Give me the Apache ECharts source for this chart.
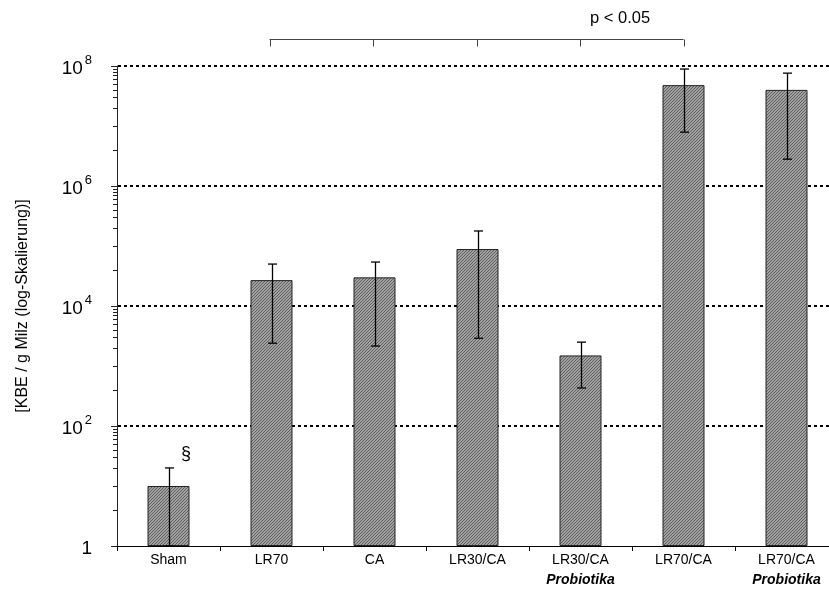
<!DOCTYPE html>
<html><head><meta charset="utf-8">
<script src="https://cdn.jsdelivr.net/npm/echarts@6/dist/echarts.min.js"></script>
<style>html,body{margin:0;padding:0;background:#fff}#c{width:829px;height:597px}</style>
</head><body><div id="c"></div>
<script>
// ---- data ----
const categories = ['Sham', 'LR70', 'CA', 'LR30/CA', 'LR30/CA\nProbiotika', 'LR70/CA', 'LR70/CA\nProbiotika'];
const means   = [10, 27000, 30000, 89000, 1500, 48000000, 40000000];
const errLow  = [1, 2400, 2150, 2900, 430, 7900000, 2800000];
const errHigh = [20, 50000, 54000, 178000, 2500, 89000000, 76000000];
const yMin = 1, yMax = 1e8;
const gridValues = [1e2, 1e4, 1e6, 1e8];
const minorMultipliers = [4, 10, 20, 30, 40, 50, 60, 70, 80, 90];
const bracketFrom = 1, bracketTo = 5;
const pText = 'p < 0.05';
const sigMark = '§';
const yName = '[KBE / g Milz (log-Skalierung)]';

const FONT = '"Liberation Sans", Arial, sans-serif';

// minor tick positions (axis decoration)
const minorTicks = [];
for (let b = 1; b < yMax; b *= 100) minorMultipliers.forEach(m => minorTicks.push(m * b));

// hatch pattern
const pc = document.createElement('canvas');
pc.width = 3; pc.height = 3;
const pctx = pc.getContext('2d');
pctx.fillStyle = '#a2a2a2'; pctx.fillRect(0, 0, 3, 3);
pctx.fillStyle = '#5e5e5e';
for (let i = 0; i < 3; i++) pctx.fillRect(2 - i, i, 1, 1);

const chart = echarts.init(document.getElementById('c'), null, {renderer: 'canvas'});
chart.setOption({
  animation: false,
  backgroundColor: '#fff',
  grid: {left: 117, top: 66, bottom: 51, width: 721, outerBoundsMode: 'none', containLabel: false},
  xAxis: {
    type: 'category',
    data: categories,
    z: 5,
    axisLine: {lineStyle: {color: '#000', width: 1}},
    axisTick: {show: true, length: 5, lineStyle: {color: '#000'}},
    axisLabel: {
      interval: 0, margin: 4, fontFamily: FONT, fontSize: 14, color: '#000', lineHeight: 20,
      formatter: v => { const p = v.split('\n'); return p.length > 1 ? p[0] + '\n{p|' + p[1] + '}' : v; },
      rich: {p: {fontFamily: FONT, fontSize: 14, fontWeight: 'bold', fontStyle: 'italic', color: '#000', lineHeight: 20}}
    },
    splitLine: {show: false}
  },
  yAxis: {
    type: 'log', logBase: 100, min: yMin, max: yMax,
    name: yName, nameLocation: 'middle', nameRotate: 90, nameGap: 86,
    nameTextStyle: {fontFamily: FONT, fontSize: 16, color: '#000'},
    axisLine: {show: true, lineStyle: {color: '#222', width: 1}},
    axisTick: {show: true, length: 6, lineStyle: {color: '#222'}},
    axisLabel: {
      margin: 25, color: '#000',
      formatter: v => { const e = Math.round(Math.log10(v)); return e === 0 ? '{b|1}' : '{b|10}{s|' + e + '}'; },
      rich: {
        b: {fontFamily: FONT, fontSize: 19, color: '#000', verticalAlign: 'bottom', lineHeight: 24},
        s: {fontFamily: FONT, fontSize: 13, color: '#000', verticalAlign: 'top', lineHeight: 24, padding: [0, 0, 0, 2]}
      }
    },
    splitLine: {show: false}
  },
  series: [
    {
      // dotted horizontal gridlines (behind bars)
      type: 'custom', z: 1, clip: false, silent: true,
      encode: {x: 0, y: 1},
      data: gridValues.map(v => [0, v]),
      renderItem: (params, api) => {
        const y = Math.round(api.coord([0, api.value(1)])[1]);
        const cs = params.coordSys;
        return {type: 'line', shape: {x1: cs.x + 1, y1: y, x2: cs.x + cs.width, y2: y},
          style: {stroke: '#000', lineWidth: 2, lineDash: [3, 3]}};
      }
    },
    {
      type: 'bar', data: means, barWidth: 42, z: 2,
      itemStyle: {color: {image: pc, repeat: 'repeat'}, borderColor: '#222', borderWidth: 1}
    },
    {
      type: 'custom', z: 3, clip: false, silent: true,
      encode: {x: 0, y: [1, 2]},
      data: categories.map((c, i) => [i, errLow[i], errHigh[i]]),
      renderItem: (params, api) => {
        const lo = api.coord([api.value(0), api.value(1)]);
        const hi = api.coord([api.value(0), api.value(2)]);
        const x = Math.round(lo[0]) + 0.5, w = 4.5;
        const st = {stroke: '#000', lineWidth: 1.3};
        return {type: 'group', children: [
          {type: 'line', shape: {x1: x, y1: lo[1], x2: x, y2: hi[1]}, style: st},
          {type: 'line', shape: {x1: x - w, y1: hi[1], x2: x + w, y2: hi[1]}, style: st},
          {type: 'line', shape: {x1: x - w, y1: lo[1], x2: x + w, y2: lo[1]}, style: st}
        ]};
      }
    },
    {
      type: 'custom', z: 3, clip: false, silent: true,
      encode: {x: 0, y: 1},
      data: minorTicks.map(v => [0, v]),
      renderItem: (params, api) => {
        const y = Math.round(api.coord([0, api.value(1)])[1]) + 0.5;
        const x = params.coordSys.x;
        return {type: 'line', shape: {x1: x - 4, y1: y, x2: x, y2: y}, style: {stroke: '#222', lineWidth: 1}};
      }
    },
    {
      type: 'custom', z: 3, clip: false, silent: true,
      encode: {x: 0},
      data: [[bracketFrom, bracketTo]],
      renderItem: (params, api) => {
        const yTop = params.coordSys.y - 26.5, yBot = yTop + 7;
        const ch = [];
        const xa = Math.round(api.coord([api.value(0), yMax])[0]) - 2.5;
        const xb = Math.round(api.coord([api.value(1), yMax])[0]) - 0.5;
        const st = {stroke: '#444', lineWidth: 1};
        ch.push({type: 'line', shape: {x1: xa, y1: yTop, x2: xb, y2: yTop}, style: st});
        const n = api.value(1) - api.value(0);
        for (let k = 0; k <= n; k++) {
          const xi = Math.round(xa + (xb - xa) * k / n) + 0.5;
          ch.push({type: 'line', shape: {x1: xi, y1: yTop, x2: xi, y2: yBot}, style: st});
        }
        return {type: 'group', children: ch};
      }
    }
  ],
  graphic: [
    {type: 'text', left: 590, top: 10, style: {text: pText, fontFamily: FONT, fontSize: 16.5, fill: '#000'}},
    {type: 'text', left: 181, top: 445, style: {text: sigMark, fontFamily: FONT, fontSize: 18, fill: '#000'}}
  ]
});
</script></body></html>
